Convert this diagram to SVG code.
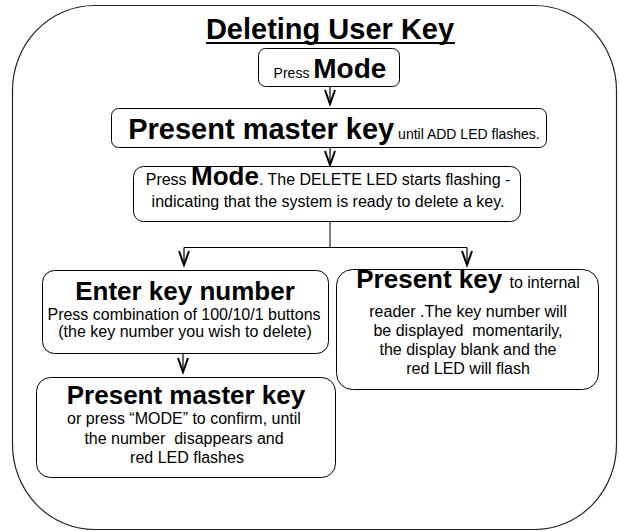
<svg xmlns="http://www.w3.org/2000/svg" width="619" height="531" viewBox="0 0 619 531">
<style>
text{font-family:"Liberation Sans",Arial,sans-serif;fill:#000}
.b{font-weight:bold}
.box{fill:#fff;stroke:#000;stroke-width:1}
.frame{fill:#fff;stroke:#222;stroke-width:1.2}
.con{fill:none;stroke:#000;stroke-width:1}
.arr{fill:none;stroke:#000;stroke-width:1.2}
</style>
<defs>
<marker id="v" markerUnits="userSpaceOnUse" markerWidth="20" markerHeight="20" refX="0" refY="0" orient="auto" overflow="visible">
<path d="M-14,-5 L0,0 L-14,5" fill="none" stroke="#000" stroke-width="2"/>
</marker>
</defs>
<rect class="frame" x="12.5" y="5.5" width="604" height="524" rx="82" ry="85"/>
<g id="title">
<text class="b" x="330" y="39" font-size="29" text-anchor="middle">Deleting User Key</text>
<line x1="206" y1="43" x2="455" y2="43" stroke="#000" stroke-width="2"/>
</g>
<g id="connectors">
<line class="arr" x1="330" y1="87" x2="330" y2="104" marker-end="url(#v)"/>
<line class="arr" x1="330" y1="148" x2="330" y2="165" marker-end="url(#v)"/>
<polyline class="con" points="330,222 330,247.5 467,247.5"/>
<line class="con" x1="184" y1="247.5" x2="330" y2="247.5"/>
<line class="arr" x1="184" y1="247.5" x2="184" y2="265" marker-end="url(#v)"/>
<line class="arr" x1="467" y1="247.5" x2="467" y2="265" marker-end="url(#v)"/>
<line class="arr" x1="183" y1="354" x2="183" y2="372" marker-end="url(#v)"/>
</g>
<g id="n1">
<rect class="box" x="258.5" y="48.5" width="141" height="38" rx="7"/>
<text x="330" y="78" text-anchor="middle"><tspan font-size="14">Press </tspan><tspan class="b" font-size="28">Mode</tspan></text>
</g>
<g id="n2">
<rect class="box" x="111.5" y="108.5" width="435" height="39" rx="7"/>
<text x="334" y="139" text-anchor="middle"><tspan class="b" font-size="29">Present master key</tspan><tspan font-size="14"> until ADD LED flashes.</tspan></text>
</g>
<g id="n3">
<rect class="box" x="133.5" y="166.5" width="387" height="55" rx="10"/>
<text x="328" y="185" text-anchor="middle" font-size="16">Press <tspan class="b" font-size="26">Mode</tspan>. The DELETE LED starts flashing -</text>
<text x="328" y="207" text-anchor="middle" font-size="16">indicating that the system is ready to delete a key.</text>
</g>
<g id="n4">
<rect class="box" x="42.5" y="270.5" width="286" height="83" rx="12"/>
<text class="b" x="185" y="300" text-anchor="middle" font-size="26">Enter key number</text>
<text x="184" y="320" text-anchor="middle" font-size="16">Press combination of 100/10/1 buttons</text>
<text x="185" y="337" text-anchor="middle" font-size="16">(the key number you wish to delete)</text>
</g>
<g id="n5">
<rect class="box" x="36.5" y="377.5" width="299" height="100" rx="14"/>
<text class="b" x="186" y="404" text-anchor="middle" font-size="26">Present master key</text>
<text x="184" y="424" text-anchor="middle" font-size="16">or press “MODE” to confirm, until</text>
<text x="184" y="443.5" text-anchor="middle" font-size="16" xml:space="preserve">the number  disappears and</text>
<text x="187" y="463" text-anchor="middle" font-size="16">red LED flashes</text>
</g>
<g id="n6">
<rect class="box" x="336.5" y="269.5" width="262" height="120" rx="16"/>
<text x="468" y="288" text-anchor="middle"><tspan class="b" font-size="26">Present key </tspan><tspan font-size="16">to internal</tspan></text>
<text x="468" y="317" text-anchor="middle" font-size="16">reader .The key number will</text>
<text x="468" y="336" text-anchor="middle" font-size="16" xml:space="preserve">be displayed  momentarily,</text>
<text x="468" y="355" text-anchor="middle" font-size="16">the display blank and the</text>
<text x="468" y="374" text-anchor="middle" font-size="16">red LED will flash</text>
</g>
</svg>
